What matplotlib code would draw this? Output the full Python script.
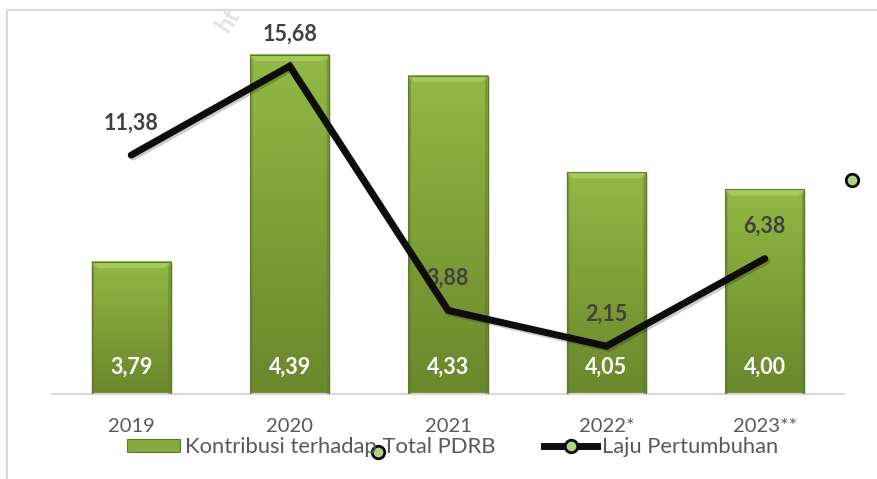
import matplotlib.pyplot as plt
import numpy as np
from matplotlib.patches import Polygon, Rectangle
from matplotlib.lines import Line2D
from matplotlib.colors import LinearSegmentedColormap
import matplotlib.patheffects as pe

plt.rcParams["font.family"] = ["Lato", "DejaVu Sans"]

years = ["2019", "2020", "2021", "2022*", "2023**"]
kontribusi = [3.79, 4.39, 4.33, 4.05, 4.00]
laju = [11.38, 15.68, 3.88, 2.15, 6.38]

kontribusi_lbl = ["3,79", "4,39", "4,33", "4,05", "4,00"]
laju_lbl = ["11,38", "15,68", "3,88", "2,15", "6,38"]

GREY_TXT = "#595959"
DARK_TXT = "#404040"

fig = plt.figure(figsize=(8.77, 4.79), dpi=100)
W, H = 877, 479
ax = fig.add_axes([52 / W, 1 - 394 / H, 792 / W, 374 / H])

x = np.arange(len(years))
bw = 0.5
bars = ax.bar(x, kontribusi, bw, bottom=0, color="none", edgecolor="none")

ylo, yhi = 3.407, 3.407 + 374 / 345
grad = LinearSegmentedColormap.from_list("g", ["#6a872c", "#7f9f37", "#93b946"])
g = np.linspace(0, 1, 256).reshape(-1, 1)
for b in bars:
    x0, x1 = b.get_x(), b.get_x() + b.get_width()
    y1 = b.get_height()
    ax.add_patch(Rectangle((x0 + 0.012, ylo), x1 - x0, y1 - ylo - 0.004,
                           color="#000000", alpha=0.12, zorder=1, lw=0))
    ax.imshow(g, cmap=grad, origin="lower", extent=[x0, x1, ylo, y1],
              aspect="auto", zorder=2)
    dx, dy = 0.04, 0.018
    ax.add_patch(Polygon([[x0, y1], [x1, y1], [x1 - dx, y1 - dy], [x0 + dx, y1 - dy]],
                         closed=True, color="#a5c95c", lw=0, zorder=3))
    ax.add_patch(Polygon([[x0, ylo], [x0, y1], [x0 + dx * 0.4, y1 - dy], [x0 + dx * 0.4, ylo]],
                         closed=True, color="#5f7a28", alpha=0.5, lw=0, zorder=3))
    ax.add_patch(Polygon([[x1, ylo], [x1, y1], [x1 - dx * 0.4, y1 - dy], [x1 - dx * 0.4, ylo]],
                         closed=True, color="#5f7a28", alpha=0.5, lw=0, zorder=3))
    ax.add_patch(Rectangle((x0, ylo), x1 - x0, y1 - ylo, fill=False,
                           edgecolor="#5e7a2a", lw=0.8, zorder=4))

for xi, lbl in zip(x, kontribusi_lbl):
    ax.annotate(lbl, (xi, ylo), xytext=(0, 19), textcoords="offset points",
                ha="center", va="center", color="white", fontsize=15.5,
                fontweight="bold", zorder=5)

ax.set_xlim(-0.5, len(years) - 0.5)
ax.set_ylim(ylo, yhi)
for s in ["top", "left", "right"]:
    ax.spines[s].set_visible(False)
ax.spines["bottom"].set_color("#d9d9d9")
ax.spines["bottom"].set_linewidth(1.6)
ax.set_yticks([])
ax.set_xticks(x)
ax.set_xticklabels(years, fontsize=14.5, color=GREY_TXT)
ax.tick_params(axis="x", length=0, pad=17)

ax2 = ax.twinx()
ax2.set_ylim(-0.16, -0.16 + 374 / 20.7)
ax2.plot(x, laju, color="#0d0d0d", lw=5, solid_capstyle="round",
         solid_joinstyle="miter", zorder=5,
         path_effects=[pe.SimpleLineShadow(offset=(1.5, -1.5), alpha=0.2), pe.Normal()])
for xi, v, lbl in zip(x, laju, laju_lbl):
    ax2.annotate(lbl, (xi, v), xytext=(0, 23), textcoords="offset points",
                 ha="center", va="center", color=DARK_TXT, fontsize=15.5,
                 fontweight="bold")
ax2.set_axis_off()

# legend
h_bar = Rectangle((0, 0), 1, 1, facecolor="#86aa3c", edgecolor="#5e7a2a", lw=0.8)
h_line = Line2D([], [], color="#0d0d0d", lw=5, marker="o", markersize=9,
                markerfacecolor="#b5cf86", markeredgecolor="#0d0d0d", markeredgewidth=2)
leg = fig.legend([h_bar, h_line], ["Kontribusi terhadap Total PDRB", "Laju Pertumbuhan"],
                 loc="center", bbox_to_anchor=(453 / W, 1 - 447 / H), ncol=2,
                 frameon=False, fontsize=15.8, handlelength=2.4, handleheight=0.55,
                 handletextpad=0.25, columnspacing=2.2, borderpad=0)
for t in leg.get_texts():
    t.set_color(GREY_TXT)

# stray marker artifacts from the original rendering
for px, py in [(852, 180), (378, 452)]:
    fig.add_artist(Line2D([px / W], [1 - py / H], marker="o", markersize=9,
                          markerfacecolor="#b5cf86", markeredgecolor="#0d0d0d",
                          markeredgewidth=2, transform=fig.transFigure))

# outer frame and watermark
fig.add_artist(Rectangle((7 / W, -0.05), 1.05, 1 - 10 / H + 0.05, fill=False,
                         edgecolor="#d9d9d9", lw=1.5, transform=fig.transFigure))
fig.text(228 / W, 1 - 20 / H, "ht", rotation=55, color="#e3e3e3", fontsize=18,
         fontweight="bold", ha="center", va="center")

fig.savefig("out.png", dpi=100)
